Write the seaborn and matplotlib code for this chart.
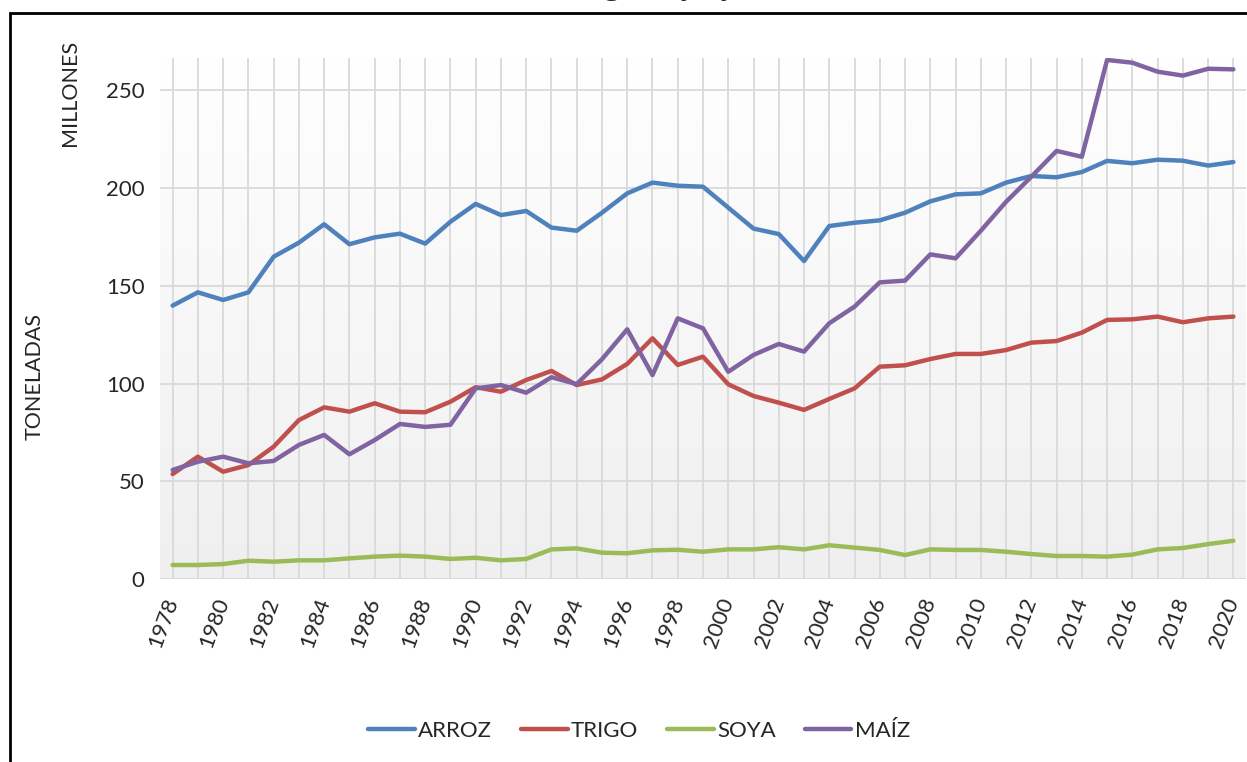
import numpy as np
import pandas as pd
import matplotlib
matplotlib.use("Agg")
import matplotlib.pyplot as plt
from matplotlib.patches import Rectangle
import seaborn as sns

# Datos (millones de toneladas)
anios = list(range(1978, 2021))
arroz = [139.9, 146.7, 142.8, 146.7, 164.9, 172.1, 181.5, 171.3, 174.8, 176.7,
         171.6, 182.8, 191.9, 186.2, 188.3, 179.8, 178.2, 187.4, 197.3, 202.8,
         201.2, 200.7, 190.0, 179.3, 176.5, 162.7, 180.6, 182.3, 183.5, 187.4,
         193.2, 196.8, 197.3, 202.8, 206.2, 205.5, 208.2, 213.9, 212.7, 214.5,
         214.0, 211.5, 213.3]
trigo = [53.8, 62.7, 55.0, 58.4, 67.8, 81.4, 87.9, 85.7, 90.0, 85.7,
         85.4, 90.8, 98.2, 95.9, 101.9, 106.5, 99.3, 102.2, 110.1, 123.2,
         109.6, 113.8, 99.7, 93.7, 90.3, 86.6, 92.2, 97.6, 108.7, 109.4,
         112.6, 115.2, 115.2, 117.2, 121.0, 121.8, 126.1, 132.6, 132.9, 134.3,
         131.4, 133.4, 134.3]
soya = [7.3, 7.3, 7.8, 9.5, 9.0, 9.7, 9.7, 10.7, 11.6, 12.1,
        11.6, 10.4, 11.0, 9.7, 10.4, 15.3, 15.8, 13.6, 13.3, 14.8,
        15.1, 14.1, 15.3, 15.3, 16.4, 15.3, 17.4, 16.2, 15.0, 12.4,
        15.3, 15.0, 15.0, 14.1, 12.9, 11.9, 11.9, 11.6, 12.6, 15.3,
        16.0, 18.0, 19.7]
maiz = [55.9, 60.1, 62.7, 59.3, 60.5, 68.7, 73.8, 63.9, 71.2, 79.4,
        77.9, 79.0, 97.6, 99.3, 95.4, 103.3, 99.8, 112.5, 127.8, 104.4,
        133.4, 128.3, 106.1, 114.7, 120.3, 116.4, 130.9, 139.4, 151.8, 152.7,
        166.1, 164.1, 178.2, 193.0, 205.8, 219.0, 216.0, 265.5, 264.1, 259.5,
        257.5, 261.0, 260.7]

series = ["ARROZ", "TRIGO", "SOYA", "MAÍZ"]
colores = {"ARROZ": "#4F81BD", "TRIGO": "#C0504D", "SOYA": "#9BBB59", "MAÍZ": "#8064A2"}

df = pd.DataFrame({"anio": anios, "ARROZ": arroz, "TRIGO": trigo, "SOYA": soya, "MAÍZ": maiz})
df_long = df.melt(id_vars="anio", var_name="cultivo", value_name="valor")

sns.set_theme(style="white")
plt.rcParams["font.family"] = ["Lato", "DejaVu Sans"]

W, H = 1247, 762
fig = plt.figure(figsize=(W / 100, H / 100), dpi=100)
ax = fig.add_axes([160 / W, 1 - 579.3 / H, (1246 - 160) / W, (579.3 - 58) / H])

# fondo degradado blanco -> gris
grad = np.linspace(0, 1, 256).reshape(-1, 1)
ax.imshow(grad, extent=[0, 1, 0, 1], transform=ax.transAxes, aspect="auto",
          cmap=matplotlib.colors.LinearSegmentedColormap.from_list("g", ["#ffffff", "#efefef"]),
          origin="upper", zorder=0)

sns.lineplot(data=df_long, x="anio", y="valor", hue="cultivo", hue_order=series,
             palette=colores, linewidth=3.2, legend=False, ax=ax, zorder=3)

ax.set_xlim(1977.5, 2020.5)
ax.set_ylim(0, 266.5)
ax.set_xticks(anios, minor=True)
ax.set_xticks(anios[::2])
ax.set_xticklabels([str(a) for a in anios[::2]], rotation=70, ha="right", va="center",
                   rotation_mode="anchor")
ax.set_yticks([0, 50, 100, 150, 200, 250])
ax.grid(True, which="both", axis="x", color="#d9d9d9", linewidth=1.3, zorder=1)
ax.grid(True, which="major", axis="y", color="#d9d9d9", linewidth=1.3, zorder=1)
ax.tick_params(axis="both", which="both", length=0, labelsize=16)
ax.tick_params(axis="x", pad=14)
ax.tick_params(axis="y", pad=11)
for s in ax.spines.values():
    s.set_visible(False)
ax.axhline(0, color="#d9d9d9", linewidth=2, zorder=2)
ax.set_xlabel("")
ax.set_ylabel("")

fig.text(70 / W, 1 - 93 / H, "MILLONES", rotation=90, ha="center", va="center", fontsize=15.5)
fig.text(35 / W, 1 - 377 / H, "TONELADAS", rotation=90, ha="center", va="center", fontsize=15.5)

# titulo (cortado arriba en la imagen original)
fig.text(810 / W, 1 + 6 / H, "Producción de arroz, trigo, soya y maíz", ha="right", va="baseline",
         fontsize=23, fontweight="bold", family="Liberation Serif")

# marco del grafico
fig.add_artist(Rectangle((10 / W, -0.1), 1.2, 1.1 - 13 / H, transform=fig.transFigure,
                         fill=False, edgecolor="black", linewidth=2))

handles = ax.get_lines()[:4]
fig.legend(handles, series, loc="center", bbox_to_anchor=(639 / W, 1 - 731 / H), ncol=4,
           frameon=False, fontsize=16, handlelength=2.1, handletextpad=0.15,
           columnspacing=1.3)

fig.savefig("out.png", dpi=100)
